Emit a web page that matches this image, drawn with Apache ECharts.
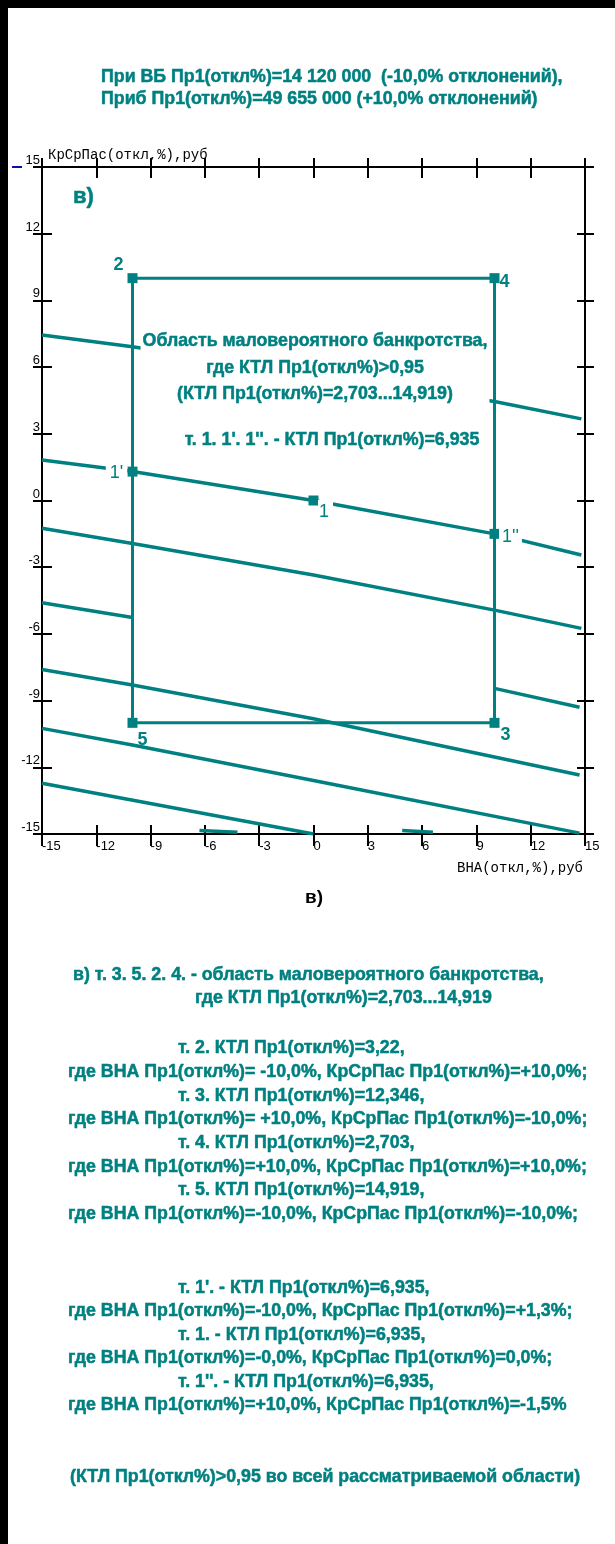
<!DOCTYPE html>
<html>
<head>
<meta charset="utf-8">
<script src="https://cdn.jsdelivr.net/npm/echarts@6/dist/echarts.min.js"></script>
<style>
  html, body { margin: 0; padding: 0; background: #fff; }
  #chart { width: 615px; height: 1544px; }
</style>
</head>
<body>
<div id="chart"></div>
<script>
// axis range (ВНА and КрСрПас deviation, %)
const axisMin = -15;
const axisMax = 15;
const axisStep = 3;

// iso-lines of КТЛ: [ВНА %, КрСрПас %]
const lineA = [[-15, 7.44], [-10, 6.92], [10, 4.45], [14.8, 3.67]];
const lineB = [[-15, 1.82], [-10, 1.3], [0, 0], [10, -1.5], [14.8, -2.45]];
const lineC = [[-15, -1.25], [-10, -1.93], [0, -3.35], [10, -4.93], [14.8, -5.75]];
const lineDLeft = [[-15, -4.6], [-10, -5.26]];
const lineDRight = [[10, -8.45], [14.7, -9.3]];
const lineE = [[-15, -7.6], [-10, -8.3], [0, -9.82], [14.7, -12.35]];
const lineF = [[-15, -10.25], [-10, -11.0], [0, -12.59], [14.7, -14.96]];
const lineG = [[-15, -12.72], [0, -15]];
const bitsLow1 = [[-6.3, -14.84], [-4.2, -14.92]];
const bitsLow2 = [[4.9, -14.84], [6.6, -14.92]];

// region of unlikely bankruptcy, т. 2-4-3-5
const boxPath = [[-10, 10], [10, 10], [10, -10], [-10, -10], [-10, 10]];
const cornerNames = ['2', '4', '3', '5'];
const cornerValues = [[-10, 10], [10, 10], [10, -10], [-10, -10]];
// points with КТЛ = 6,935
const keyNames = ["1'", '1', "1''"];
const keyValues = [[-10, 1.3], [0, 0], [10, -1.5]];

const titleLines = [
  'При ВБ Пр1(откл%)=14 120 000  (-10,0% отклонений),',
  'Приб Пр1(откл%)=49 655 000 (+10,0% отклонений)'
];
const boxNote = [
  'Область маловероятного банкротства,',
  'где КТЛ Пр1(откл%)>0,95',
  '(КТЛ Пр1(откл%)=2,703...14,919)'
];
const boxNoteKey = "т. 1. 1'. 1''. - КТЛ Пр1(откл%)=6,935";
const summary = [
  'в) т. 3. 5. 2. 4. - область маловероятного банкротства,',
  'где КТЛ Пр1(откл%)=2,703...14,919',
  'т. 2. КТЛ Пр1(откл%)=3,22,',
  'где ВНА Пр1(откл%)= -10,0%, КрСрПас Пр1(откл%)=+10,0%;',
  'т. 3. КТЛ Пр1(откл%)=12,346,',
  'где ВНА Пр1(откл%)= +10,0%, КрСрПас Пр1(откл%)=-10,0%;',
  'т. 4. КТЛ Пр1(откл%)=2,703,',
  'где ВНА Пр1(откл%)=+10,0%, КрСрПас Пр1(откл%)=+10,0%;',
  'т. 5. КТЛ Пр1(откл%)=14,919,',
  'где ВНА Пр1(откл%)=-10,0%, КрСрПас Пр1(откл%)=-10,0%;',
  "т. 1'. - КТЛ Пр1(откл%)=6,935,",
  'где ВНА Пр1(откл%)=-10,0%, КрСрПас Пр1(откл%)=+1,3%;',
  'т. 1. - КТЛ Пр1(откл%)=6,935,',
  'где ВНА Пр1(откл%)=-0,0%, КрСрПас Пр1(откл%)=0,0%;',
  "т. 1''. - КТЛ Пр1(откл%)=6,935,",
  'где ВНА Пр1(откл%)=+10,0%, КрСрПас Пр1(откл%)=-1,5%',
  '(КТЛ Пр1(откл%)>0,95 во всей рассматриваемой области)'
];
// where each summary line sits on the page
const summaryX = [73, 195, 178, 68, 178, 68, 178, 68, 178, 68, 178, 68, 178, 68, 178, 68, 70];
const summaryY = [975, 998, 1048, 1072, 1096, 1119, 1143, 1167, 1190, 1214, 1288, 1311, 1335, 1358, 1382, 1405, 1477];

const TEAL = '#008080';
const SANS = '"Liberation Sans", Arial, sans-serif';
const MONO = '"Liberation Mono", "Courier New", monospace';

// label offsets and paddings around the point markers
const labelOffset = {
  '2': [-14, -13], '4': [10, 4], '3': [11, 12], '5': [10, 17],
  "1'": [-16, 1], '1': [12, 12], "1''": [16, 3]
};
const labelPadding = { "1'": [3, 4], '1': [7, 4, 0, 1], "1''": [3, 3] };

const chart = echarts.init(document.getElementById('chart'), null, { renderer: 'canvas' });

function axis(position, inside, len, extra) {
  return Object.assign({
    type: 'value',
    position: position,
    min: axisMin,
    max: axisMax,
    interval: axisStep,
    axisLine: { show: true, onZero: false, lineStyle: { color: '#000', width: 2 } },
    axisTick: { show: true, inside: inside, length: len, lineStyle: { color: '#000', width: 2 } },
    axisLabel: { show: false },
    splitLine: { show: false }
  }, extra || {});
}

function contour(data) {
  return {
    type: 'line',
    data: data,
    symbol: 'none',
    silent: true,
    z: 2,
    lineStyle: { color: TEAL, width: 3.5 }
  };
}

function pointSeries(names, values, whiteBack) {
  return {
    type: 'scatter',
    symbol: 'rect',
    symbolSize: 10,
    z: 5,
    silent: true,
    itemStyle: { color: TEAL, opacity: 1 },
    label: {
      show: true,
      position: 'inside',
      formatter: '{b}',
      color: TEAL,
      fontFamily: SANS,
      fontSize: 18,
      fontWeight: whiteBack ? 'normal' : 'bold',
      backgroundColor: whiteBack ? '#fff' : 'transparent',
      padding: 0
    },
    data: names.map((n, i) => ({
      name: n,
      value: values[i],
      label: { offset: labelOffset[n], padding: whiteBack ? labelPadding[n] : 0 }
    }))
  };
}

const noteFont = { fill: TEAL, fontFamily: SANS, fontSize: 17.8, fontWeight: 'bold', stroke: TEAL, lineWidth: 0.5 };

const graphics = [
  { type: 'rect', shape: { x: 0, y: 0, width: 8, height: 1544 }, style: { fill: '#000' }, z: 100 },
  { type: 'rect', shape: { x: 0, y: 0, width: 615, height: 8 }, style: { fill: '#000' }, z: 100 },
  { type: 'rect', shape: { x: 12, y: 166, width: 10, height: 2 }, style: { fill: '#1010a0' }, z: 100 }
];
titleLines.forEach((t, i) => {
  graphics.push({ type: 'text', x: 101, y: 77 + i * 22, z: 100,
    style: Object.assign({ text: t, align: 'left', verticalAlign: 'middle' }, noteFont) });
});
graphics.push({ type: 'text', x: 73, y: 197, z: 100,
  style: { text: 'в)', fill: TEAL, stroke: TEAL, lineWidth: 0.5, fontFamily: SANS, fontSize: 22, fontWeight: 'bold', verticalAlign: 'middle' } });
graphics.push({ type: 'text', x: 315, y: 327, z: 100,
  style: Object.assign({ text: boxNote.join('\n'), align: 'center', verticalAlign: 'top',
    lineHeight: 26.5, backgroundColor: '#fff', padding: [1, 2] }, noteFont) });
graphics.push({ type: 'text', x: 332, y: 440, z: 100,
  style: Object.assign({ text: boxNoteKey, align: 'center', verticalAlign: 'middle' }, noteFont) });
graphics.push({ type: 'text', x: 583, y: 868, z: 100,
  style: { text: 'ВНА(откл,%),руб', fill: '#000', fontFamily: MONO, fontSize: 14, align: 'right', verticalAlign: 'middle' } });
graphics.push({ type: 'text', x: 314, y: 898, z: 100,
  style: { text: 'в)', fill: '#000', fontFamily: SANS, fontSize: 19, fontWeight: 'bold', align: 'center', verticalAlign: 'middle' } });
summary.forEach((t, i) => {
  graphics.push({ type: 'text', x: summaryX[i], y: summaryY[i], z: 100,
    style: Object.assign({ text: t, align: 'left', verticalAlign: 'middle' }, noteFont) });
});

const option = {
  animation: false,
  backgroundColor: '#fff',
  grid: { left: 42, top: 167, right: 30, bottom: 710, containLabel: false },
  xAxis: [
    axis('bottom', false, 12, {
      axisLabel: { show: true, color: '#000', fontFamily: SANS, fontSize: 13, align: 'left', margin: 6,
        showMinLabel: true, showMaxLabel: true, hideOverlap: false }
    }),
    axis('bottom', true, 9),
    axis('top', false, 9),
    axis('top', true, 11)
  ],
  yAxis: [
    axis('left', false, 9, {
      name: 'КрСрПас(откл,%),руб',
      nameLocation: 'end',
      nameGap: 5,
      nameTextStyle: { color: '#000', fontFamily: MONO, fontSize: 14, align: 'left', verticalAlign: 'bottom', padding: [0, 0, 0, 6] },
      axisLabel: { show: true, color: '#000', fontFamily: SANS, fontSize: 13, align: 'right', verticalAlign: 'bottom', margin: 2,
        showMinLabel: true, showMaxLabel: true, hideOverlap: false }
    }),
    axis('left', true, 10),
    axis('right', false, 9),
    axis('right', true, 8)
  ],
  series: [
    contour(lineA), contour(lineB), contour(lineC),
    contour(lineDLeft), contour(lineDRight),
    contour(lineE), contour(lineF), contour(lineG),
    contour(bitsLow1), contour(bitsLow2),
    Object.assign(contour(boxPath), { z: 3, lineStyle: { color: TEAL, width: 3 } }),
    pointSeries(cornerNames, cornerValues, false),
    pointSeries(keyNames, keyValues, true)
  ],
  graphic: { elements: graphics }
};

chart.setOption(option);
</script>
</body>
</html>
